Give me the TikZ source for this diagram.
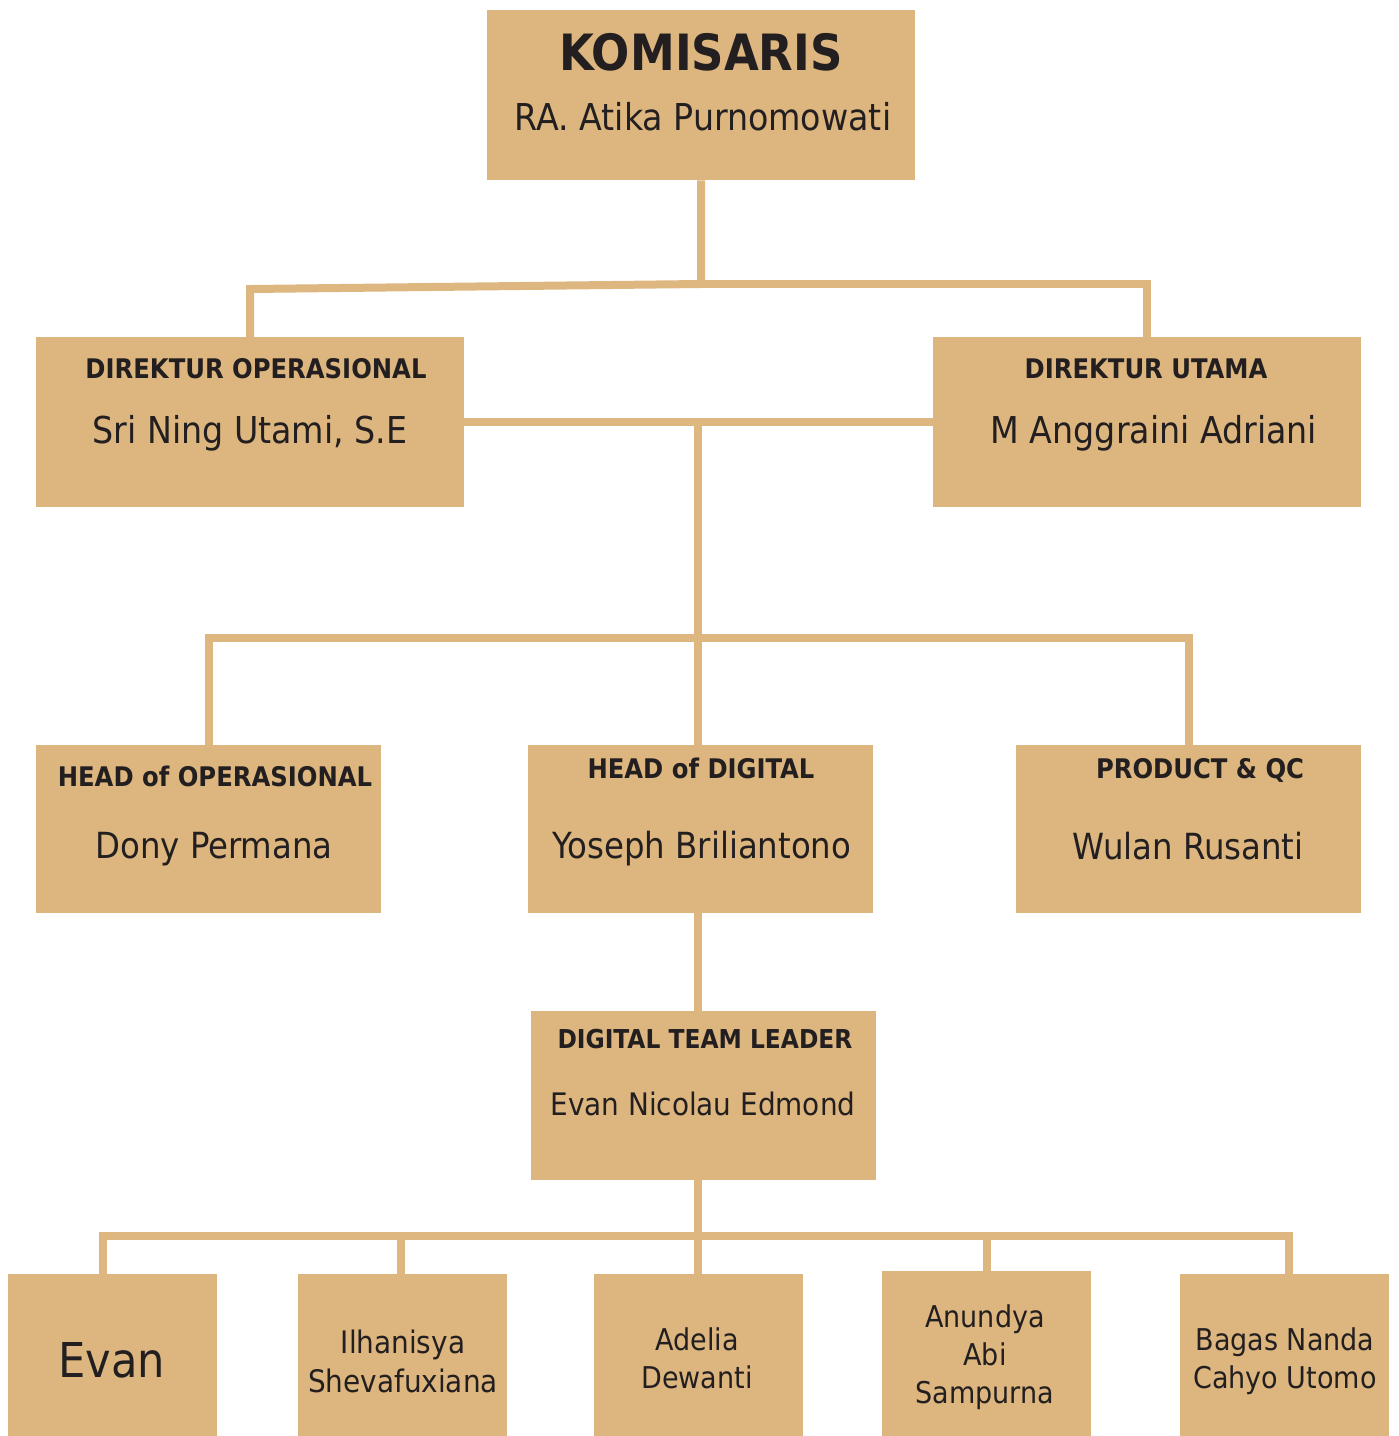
\documentclass[tikz,border=0pt]{standalone}
\usepackage{fontspec}
\setmainfont{DejaVu Sans Condensed}
\usetikzlibrary{positioning,calc}

\definecolor{boxtan}{HTML}{DCB67E}
\definecolor{linetan}{HTML}{DDB77F}
\definecolor{inkdark}{HTML}{231F20}

\begin{document}
\begin{tikzpicture}[x=1pt,y=-1pt,
  unit/.style={fill=boxtan, inner sep=0pt, anchor=north west},
  wide/.style={unit, minimum width=428pt, minimum height=170pt},
  mid/.style={unit, minimum width=345pt, minimum height=168pt},
  small/.style={unit, minimum width=209pt, minimum height=162pt},
  role/.style={text=inkdark, inner sep=0pt, anchor=base, font=\bfseries\fontsize{27}{32}\selectfont},
  person/.style={text=inkdark, inner sep=0pt, anchor=base, font=\fontsize{37}{44}\selectfont},
  staff/.style={text=inkdark, inner sep=0pt, anchor=base, align=center, font=\fontsize{30}{38}\selectfont},
  link/.style={draw=linetan, line width=8pt}]
\useasboundingbox (0,0) rectangle (1399,1436);

% boxes
\node[wide] (kom) at (487,10) {};
\node[wide] (dirop) at (36,337) {};
\node[wide] (dirut) at (933,337) {};
\node[mid] (hops) at (36,745) {};
\node[mid] (hdig) at (528,745) {};
\node[mid] (hpqc) at (1016,745) {};
\node[mid, minimum height=169pt] (dtl) at (531,1011) {};
\node[small] (evan) at (8,1274) {};
\node[small] (ilha) at (298,1274) {};
\node[small] (adel) at (594,1274) {};
\node[small, minimum height=165pt] (anun) at (882,1271) {};
\node[small] (bagas) at (1180,1274) {};

% connectors
\coordinate (topjoin) at (701,284);
\coordinate (midjoin) at (698,422);
\coordinate (headbar) at (698,638);
\coordinate (teambar) at (698,1236);
\draw[link] (kom.south) -- (topjoin);
\draw[link] (topjoin) -- (dirop.north |- 0,289) -- (dirop.north);
\draw[link] (topjoin) -| (dirut.north);
\draw[link] (dirop.east) -- (dirut.west);
\draw[link] (midjoin) -- (midjoin |- hdig.north);
\draw[link] (hops.north) |- (headbar) -| (hpqc.north);
\draw[link] (midjoin |- hdig.south) -- (midjoin |- dtl.north);
\draw[link] (midjoin |- dtl.south) -- (midjoin |- adel.north);
\draw[link] ([xshift=-10]evan.north) |- (teambar) -| ([xshift=4]bagas.north);
\foreach \m/\dx in {ilha/-2,anun/0}
  \draw[link] ([xshift=\dx]\m.north) -- ([xshift=\dx]\m.north |- teambar);

% texts
\node[role, font=\bfseries\fontsize{50}{60}\selectfont] (komrole) at (701,70) {KOMISARIS};
\node[person] (komname) at (703,130) {RA. Atika Purnomowati};
\node[role] (doprole) at (256,378) {DIREKTUR OPERASIONAL};
\node[person] (dopname) at (250,443) {Sri Ning Utami, S.E};
\node[role] (dutrole) at (1146,378) {DIREKTUR UTAMA};
\node[person] (dutname) at (1154,443) {M Anggraini Adriani};
\node[role] (hopsrole) at (215,786) {HEAD of OPERASIONAL};
\node[person, font=\fontsize{36}{43}\selectfont] (hopsname) at (214,858) {Dony Permana};
\node[role] (hdigrole) at (701,778) {HEAD of DIGITAL};
\node[person, font=\fontsize{36}{43}\selectfont] (hdigname) at (702,858) {Yoseph Briliantono};
\node[role] (hpqcrole) at (1200,778) {PRODUCT \& QC};
\node[person, font=\fontsize{36}{43}\selectfont] (hpqcname) at (1188,859) {Wulan Rusanti};
\node[role, font=\bfseries\fontsize{26}{31}\selectfont] (dtlrole) at (705,1048) {DIGITAL TEAM LEADER};
\node[person, font=\fontsize{31}{37}\selectfont] (dtlname) at (703,1115) {Evan Nicolau Edmond};
\node[staff, font=\fontsize{48}{56}\selectfont] (evanname) at (112,1377) {Evan};
\node[staff, font=\fontsize{31}{39}\selectfont] (ilhaname) at (403,1392) {Ilhanisya\\Shevafuxiana};
\node[staff] (adelname) at (697,1388) {Adelia\\Dewanti};
\node[staff] (anunname) at (985,1403) {Anundya\\Abi\\Sampurna};
\node[staff] (bagasname) at (1285,1388) {Bagas Nanda\\Cahyo Utomo};
\end{tikzpicture}
\end{document}
